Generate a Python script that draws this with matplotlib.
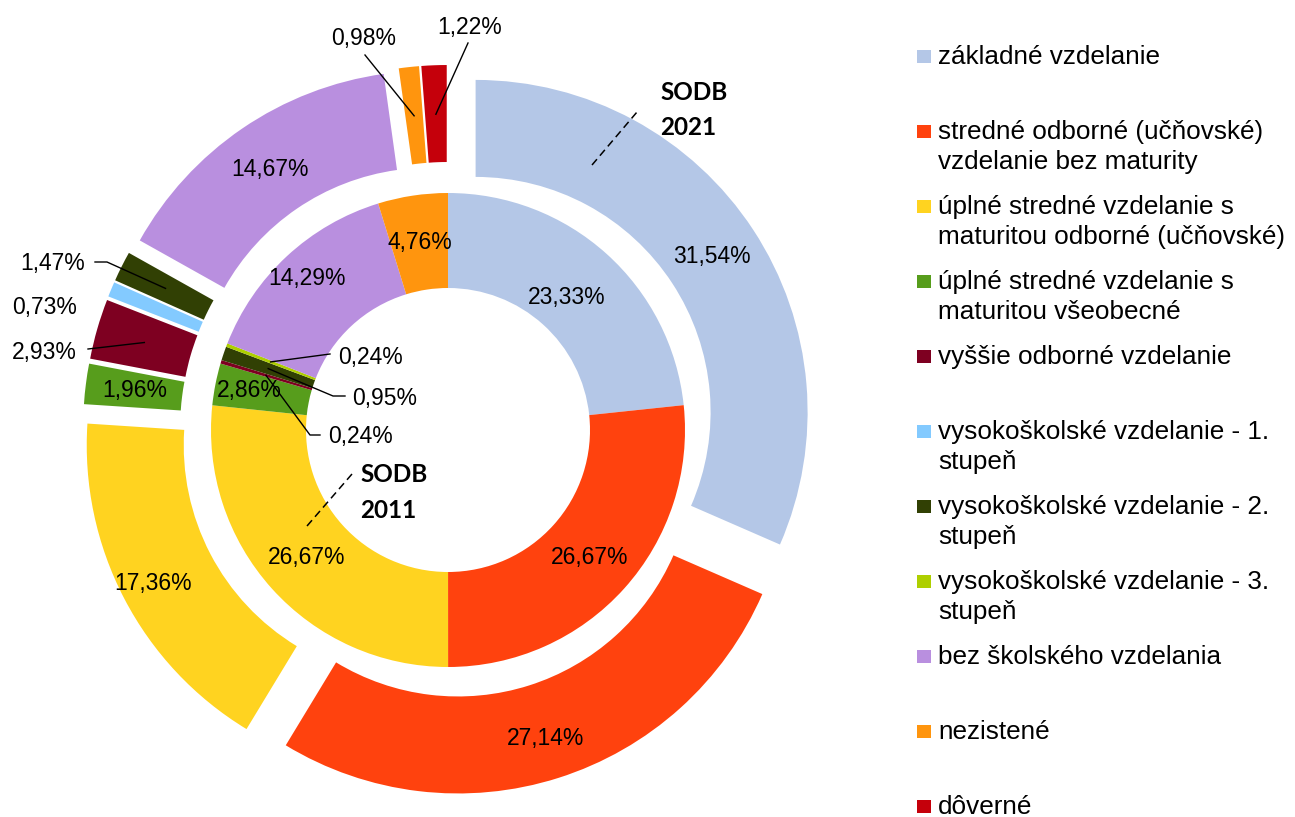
import numpy as np
import matplotlib
matplotlib.use("Agg")
import matplotlib.pyplot as plt

plt.rcParams['font.family'] = ['Liberation Sans', 'DejaVu Sans']

# Data
categories = [
    "základné vzdelanie",
    "stredné odborné (učňovské)\nvzdelanie bez maturity",
    "úplné stredné vzdelanie s\nmaturitou odborné (učňovské)",
    "úplné stredné vzdelanie s\nmaturitou všeobecné",
    "vyššie odborné vzdelanie",
    "vysokoškolské vzdelanie - 1.\nstupeň",
    "vysokoškolské vzdelanie - 2.\nstupeň",
    "vysokoškolské vzdelanie - 3.\nstupeň",
    "bez školského vzdelania",
    "nezistené",
    "dôverné",
]
values_2011 = [23.33, 26.67, 26.67, 2.86, 0.24, 0.0, 0.95, 0.24, 14.29, 4.76, 0.0]
values_2021 = [31.54, 27.14, 17.36, 1.96, 2.93, 0.73, 1.47, 0.0, 14.67, 0.98, 1.22]
colors = ["#B4C7E7", "#FF420E", "#FFD320", "#579D1C", "#7E0021", "#83CAFF",
          "#314004", "#AECF00", "#B98FDF", "#FF950E", "#C5000B"]

W, H = 1295, 817
fig = plt.figure(figsize=(W / 100, H / 100), dpi=100)
ax = fig.add_axes([0, 0, 1, 1])

def Y(y):
    # image row -> data y
    return H - y

cx, cy = 448, Y(430)

# inner ring (2011)
w_in, _ = ax.pie(values_2011, radius=237, center=(cx, cy), startangle=90,
                 counterclock=False, colors=colors,
                 wedgeprops=dict(width=95, linewidth=0))
# outer ring (2021), exploded
w_out, _ = ax.pie(values_2021, radius=332, center=(cx, cy), startangle=90,
                  counterclock=False, colors=colors, explode=[33] * len(values_2021),
                  wedgeprops=dict(width=97, linewidth=0))

ax.set_xlim(0, W)
ax.set_ylim(0, H)
ax.set_aspect('equal')
ax.axis('off')


def fmt(v):
    return f"{v:.2f}%".replace('.', ',')


def mid(w, r):
    a = np.deg2rad((w.theta1 + w.theta2) / 2)
    return w.center[0] + r * np.cos(a), w.center[1] + r * np.sin(a)


fs = 16.5
lw = 1.0

# centered labels (label distance from wedge centre)
outer_r = {0: 283, 1: 291, 2: 299, 3: 283, 8: 283}
inner_r = {0: 178, 1: 190, 2: 190, 3: 203, 8: 207, 9: 190}
for i, r in outer_r.items():
    x, y = mid(w_out[i], r)
    ax.text(x, y, fmt(values_2021[i]), ha='center', va='center', fontsize=fs)
for i, r in inner_r.items():
    x, y = mid(w_in[i], r)
    ax.text(x, y, fmt(values_2011[i]), ha='center', va='center', fontsize=fs)

# outer labels with leader lines
ax.text(77, Y(352), fmt(values_2021[4]), ha='right', va='center', fontsize=fs)
ax_, ay_ = mid(w_out[4], 283)
ax.plot([88, ax_], [Y(349), ay_], color='black', lw=lw)

ax.text(77, Y(307), fmt(values_2021[5]), ha='right', va='center', fontsize=fs)

ax.text(85, Y(263), fmt(values_2021[6]), ha='right', va='center', fontsize=fs)
ax_, ay_ = mid(w_out[6], 283)
ax.plot([95, 107, ax_], [Y(262), Y(262), ay_], color='black', lw=lw)

ax.text(364, Y(38), fmt(values_2021[9]), ha='center', va='center', fontsize=fs)
ax_, ay_ = mid(w_out[9], 283)
ax.plot([365, ax_], [Y(55), ay_], color='black', lw=lw)

ax.text(470, Y(27), fmt(values_2021[10]), ha='center', va='center', fontsize=fs)
ax_, ay_ = mid(w_out[10], 283)
ax.plot([468, ax_], [Y(43), ay_], color='black', lw=lw)

# inner labels with leader lines
ax.text(338, Y(357), fmt(values_2011[7]), ha='left', va='center', fontsize=fs)
ax_, ay_ = mid(w_in[7], 190)
ax.plot([ax_, 330], [ay_, Y(354)], color='black', lw=lw)

ax.text(352, Y(398), fmt(values_2011[6]), ha='left', va='center', fontsize=fs)
ax_, ay_ = mid(w_in[6], 190)
ax.plot([ax_, 333, 345], [ay_, Y(396), Y(396)], color='black', lw=lw)

ax.text(328, Y(436), fmt(values_2011[4]), ha='left', va='center', fontsize=fs)
ax_, ay_ = mid(w_in[4], 190)
ax.plot([ax_, 310, 320], [ay_, Y(435), Y(435)], color='black', lw=lw)

# SODB annotations
bold = dict(family=['Lato', 'DejaVu Sans'], fontweight='bold', fontsize=17.5,
            ha='left', va='center')
ax.text(660, Y(92), "SODB", **bold)
ax.text(660, Y(127), "2021", **bold)
ax.plot([592, 637], [Y(165), Y(112)], color='black', lw=1.1, dashes=(5, 3))
ax.text(360, Y(474), "SODB", **bold)
ax.text(360, Y(510), "2011", **bold)
ax.plot([307, 352], [Y(526), Y(474)], color='black', lw=1.1, dashes=(5, 3))

# legend
for i, (lab, c) in enumerate(zip(categories, colors)):
    base = 64 + 75 * i
    ax.add_patch(plt.Rectangle((917, Y(base - 1)), 14, 13, color=c, lw=0))
    for j, line in enumerate(lab.split('\n')):
        ax.text(938, Y(base + 30 * j), line, ha='left', va='baseline', fontsize=18.8)

fig.savefig("out.png", dpi=100)
